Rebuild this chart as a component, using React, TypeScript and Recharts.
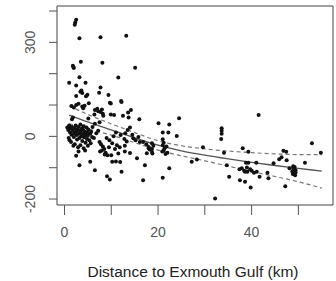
import React from 'react';
import {
  ComposedChart,
  Scatter,
  Line,
  XAxis,
  YAxis,
  ReferenceArea,
} from 'recharts';

const nearPoints: [number, number][] = [
  [2.5, 372], [2.3, 363], [2.2, 356], [3.2, 313], [7.7, 316], [13.2, 321],
  [3.5, 238], [8.1, 235], [1.8, 225], [2.0, 218], [1.9, 221], [15.1, 219],
  [3.2, 189], [11.5, 188], [1.0, 171], [2.5, 162], [4.5, 171], [7.7, 156],
  [7.4, 139], [3.4, 142], [3.8, 138], [3.6, 146], [9.4, 132], [2.5, 129],
  [4.6, 128], [4.9, 133], [12.1, 113], [9.9, 105], [1.5, 97], [2.5, 100],
  [3.0, 104], [3.8, 95], [4.3, 98], [5.2, 106], [2.0, 92], [4.0, 90],
  [6.5, 84], [7.2, 80], [7.7, 78], [8.0, 86], [7.0, 88], [14.2, 84],
  [8.2, 72], [8.3, 66], [9.9, 70], [10.6, 68], [12.5, 66], [13.6, 76],
  [13.7, 60], [9.7, 107], [12.2, 110], [16.0, 55], [1.6, 55], [1.8, 60],
  [5.1, 57], [6.4, 70],
];

const clusterPoints: [number, number][] = [
  [0.6, 28], [0.8, 20], [1.0, 35], [1.2, 12], [1.3, 25], [1.5, 5], [1.6, 30],
  [1.8, 18], [2.0, -2], [2.1, 10], [2.2, 26], [2.4, 35], [2.5, 15], [2.6, 4],
  [2.7, -10], [2.8, 22], [3.0, 30], [3.1, 8], [3.2, -5], [3.3, 18], [3.4, 38],
  [3.5, 12], [3.6, 0], [3.7, 25], [3.8, -15], [3.9, 6], [4.0, 20], [4.1, 32],
  [4.2, -3], [4.3, 10], [4.4, 15], [4.5, -20], [4.6, 5], [4.7, 28], [4.8, -8],
  [4.9, 12], [5.0, 2], [5.1, 22], [5.3, -12], [5.5, 8], [5.7, 15], [5.9, -2],
  [6.0, 30], [0.9, -5], [1.1, -12], [1.4, -18], [2.2, -25], [2.9, -35],
  [3.4, -28], [4.1, -38], [4.4, -45], [3.0, -48], [1.9, -30], [5.0, -30],
  [5.6, -22], [6.3, -5], [6.8, 10], [7.2, 18], [6.5, 40], [7.5, 45],
  [5.5, -81], [3.2, -92], [6.5, -108], [9.1, -127], [9.7, -138], [10.2, -81],
  [11.0, -80], [11.9, -82], [12.2, -113], [2.5, -62],
  [7.5, -18], [7.8, -25], [8.2, -32], [8.5, -40], [8.8, -52], [9.2, -60],
  [8.0, -45], [8.6, -58], [9.5, -35], [7.6, -48], [9.0, -5], [9.6, -12],
  [10.2, -22], [10.8, -40], [11.5, -55], [10.0, -60],
];

const midPoints: [number, number][] = [
  [11.2, -28], [11.8, -35], [12.9, -30], [12.9, -48], [14.0, -53], [12.0, 4],
  [13.0, 10], [10.5, 0], [11.0, 12], [12.8, -8], [13.3, -16],
  [14.7, -6], [15.2, -12], [16.1, -18], [16.8, -18], [17.5, -25], [18.0, -34],
  [19.0, -30], [18.8, -55], [17.2, -92], [16.8, -140], [15.5, -70], [14.5, 5],
  [15.8, -2], [13.5, 20], [14.0, 28], [17.6, -54], [18.0, -38], [18.2, -42],
  [18.7, -22], [18.7, -40], [18.7, -50],
  [20.1, 42], [22.4, 38], [24.5, 58], [21.0, 12], [22.2, 12], [24.0, 1],
  [21.0, -9], [21.2, -20], [21.0, -28], [21.4, -38], [21.2, -45], [21.6, -56],
  [21.8, -32], [20.9, -48], [22.0, -52], [22.4, -102], [21.0, -132],
  [27.2, -81], [28.3, -74], [29.6, -35], [32.2, -198],
  [33.6, 26], [33.6, 18], [33.6, 8], [33.5, -8],
  [34.1, -52], [34.7, -92], [35.2, -129],
];

const farPoints: [number, number][] = [
  [38.1, -38], [39.3, -49], [37.4, -105], [37.9, -102], [38.4, -110],
  [39.0, -99], [39.1, -113], [39.7, -105], [39.3, -84], [38.8, -84],
  [41.0, -84], [41.1, -113], [41.7, -129], [37.5, -140], [38.6, -145],
  [39.8, -163], [40.5, -116], [40.0, -110], [38.6, -113], [41.5, 68],
  [43.4, -116], [43.6, -134], [44.7, -86], [46.4, -67], [46.8, -46],
  [47.4, -49], [47.5, -76], [47.2, -159], [48.1, -102], [48.9, -95],
  [49.0, -105], [49.2, -98], [49.4, -115], [49.1, -110], [48.8, -120],
  [49.3, -124], [49.0, -102], [49.4, -108], [48.7, -112], [51.4, -84],
  [52.9, -22], [54.8, -52], [45.9, -73],
];

// fitted curve and its confidence band
const curveX = [1, 5, 10, 15, 20, 25, 30, 35, 40, 45, 50, 55];
const fitY = [68, 46, 21, -5, -28, -46, -60, -72, -83, -93, -102, -111];
const upperY = [97, 70, 40, 12, -14, -30, -40, -47, -52, -56, -58, -58];
const lowerY = [40, 24, 4, -20, -44, -62, -78, -95, -112, -128, -145, -165];

const xTicks = [0, 10, 20, 30, 40, 50];
const xLabels = [0, 20, 40];
const yTicks = [-200, -100, 0, 100, 200, 300, 400];
const yLabels = [-200, 0, 300];

const points = [...nearPoints, ...clusterPoints, ...midPoints, ...farPoints].map(
  ([x, y]) => ({ x, y })
);
const curveData = curveX.map((x, i) => ({
  x,
  fit: fitY[i],
  upper: upperY[i],
  lower: lowerY[i],
}));

const font = 'Liberation Sans, Arial, Helvetica, sans-serif';

const YTick = (props: any) => {
  const { x, y, payload } = props;
  const label = yLabels.includes(payload.value) ? String(payload.value) : '';
  return (
    <text
      x={x}
      y={y}
      transform={`rotate(-90 ${x} ${y})`}
      textAnchor="middle"
      fontSize={14}
      fontFamily={font}
      fill="#555"
    >
      {label}
    </text>
  );
};

const Dot = (props: any) => <circle cx={props.cx} cy={props.cy} r={2} fill="#111" />;

export default function App() {
  return (
    <div style={{ position: 'absolute', left: 0, top: 0, background: '#fff' }}>
      <ComposedChart
        width={336}
        height={281}
        data={curveData}
        margin={{ top: 6, right: 3, bottom: 0, left: 0 }}
      >
        <XAxis
          dataKey="x"
          type="number"
          domain={[-1.6, 57.4]}
          ticks={xTicks}
          allowDataOverflow
          axisLine={false}
          tickLine={{ stroke: '#555' }}
          tickSize={10}
          tickMargin={12}
          height={76}
          tickFormatter={(v: number) => (xLabels.includes(v) ? String(v) : '')}
          tick={{ fontSize: 14, fontFamily: font, fill: '#555' }}
          label={{
            value: 'Distance to Exmouth Gulf (km)',
            position: 'insideBottom',
            offset: 4,
            dx: -2,
            fontSize: 15.5,
            fontFamily: font,
            fill: '#222',
          }}
        />
        <YAxis
          type="number"
          domain={[-219, 416]}
          ticks={yTicks}
          allowDataOverflow
          axisLine={false}
          tickLine={{ stroke: '#555' }}
          tickSize={8}
          tickMargin={14}
          width={57}
          tick={<YTick />}
        />
        <ReferenceArea
          x1={-1.6}
          x2={57.4}
          y1={-219}
          y2={416}
          fill="none"
          stroke="#444"
          strokeWidth={1}
          ifOverflow="visible"
        />
        <Scatter data={points} dataKey="y" shape={<Dot />} isAnimationActive={false} />
        <Line
          dataKey="fit"
          type="monotone"
          stroke="#555"
          strokeWidth={1.3}
          dot={false}
          isAnimationActive={false}
        />
        <Line
          dataKey="upper"
          type="monotone"
          stroke="#777"
          strokeWidth={1.2}
          strokeDasharray="4 3"
          dot={false}
          isAnimationActive={false}
        />
        <Line
          dataKey="lower"
          type="monotone"
          stroke="#777"
          strokeWidth={1.2}
          strokeDasharray="4 3"
          dot={false}
          isAnimationActive={false}
        />
      </ComposedChart>
    </div>
  );
}
